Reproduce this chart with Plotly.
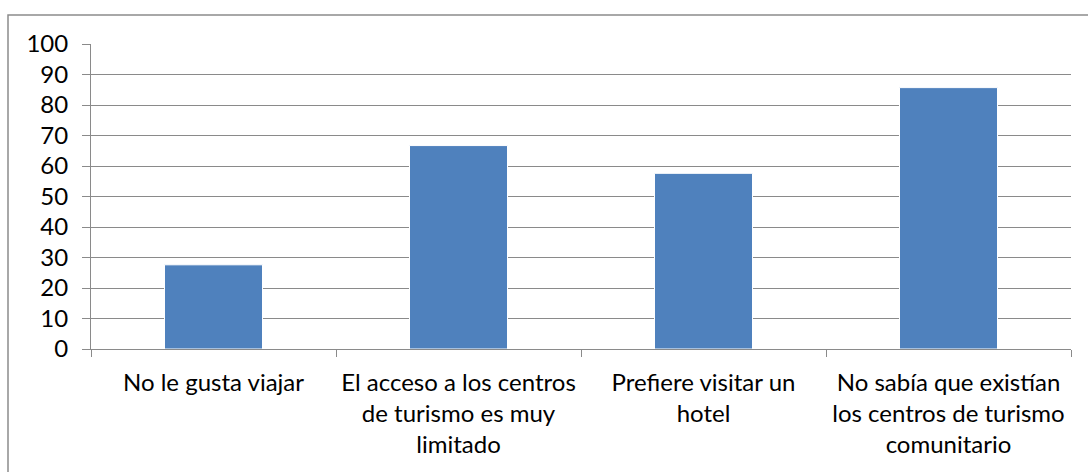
import plotly.graph_objects as go

# Reasons for not visiting community tourism centres (percent)
categories = [
    "No le gusta viajar",
    "El acceso a los centros<br>de turismo es muy<br>limitado",
    "Prefiere visitar un<br>hotel",
    "No sabía que existían<br>los centros de turismo<br>comunitario",
]
values = [27.6, 66.7, 57.6, 85.7]
y_ticks = [0, 10, 20, 30, 40, 50, 60, 70, 80, 90, 100]

W, H = 1088, 472
L, R, T, B = 91, 17, 44, 123
pw, ph = W - L - R, H - T - B

grid = "#8a8a8a"
font = dict(family="Lato, 'Open Sans', sans-serif", size=24, color="#000000")

fig = go.Figure(
    go.Bar(
        x=categories,
        y=values,
        width=0.4,
        marker=dict(color="#4F81BD", line=dict(color="#ffffff", width=1)),
        hoverinfo="x+y",
    )
)

fig.update_layout(
    width=W,
    height=H,
    margin=dict(l=L, r=R, t=T, b=B),
    paper_bgcolor="#ffffff",
    plot_bgcolor="#ffffff",
    font=font,
    showlegend=False,
    bargap=0.6,
)

fig.update_yaxes(
    range=[0, 100],
    tickvals=y_ticks,
    ticktext=[str(v) for v in y_ticks],
    showgrid=True,
    gridcolor=grid,
    gridwidth=1,
    showline=True,
    linecolor=grid,
    linewidth=1,
    ticks="outside",
    ticklen=8,
    tickcolor=grid,
    ticklabelstandoff=9,
    zeroline=False,
    tickfont=font,
)

fig.update_xaxes(
    showline=True,
    linecolor=grid,
    linewidth=1,
    ticks="outside",
    tickson="boundaries",
    ticklen=7,
    tickcolor=grid,
    ticklabelstandoff=12,
    showgrid=False,
    tickfont=font,
)

# Chart frame (only the top and left edges fall inside the page)
fig.add_shape(
    type="rect",
    xref="paper",
    yref="paper",
    x0=(8 - L) / pw,
    x1=(W + 20 - L) / pw,
    y0=-(H - T - ph + 20) / ph,
    y1=(T + ph - 15) / ph,
    line=dict(color="#8c8c8c", width=1.5),
    fillcolor="rgba(0,0,0,0)",
    layer="below",
)

fig.write_html("out.html")
